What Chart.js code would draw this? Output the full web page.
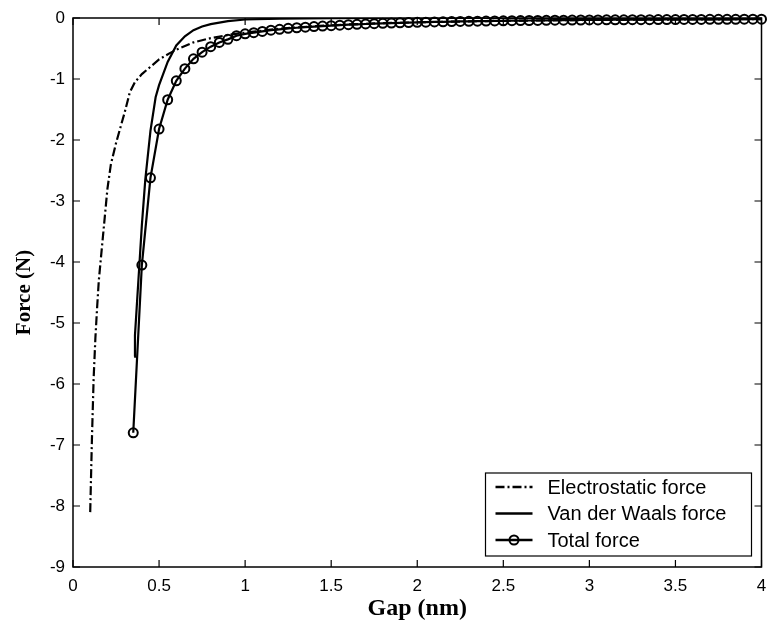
<!DOCTYPE html>
<html>
<head>
<meta charset="utf-8">
<script src="https://cdn.jsdelivr.net/npm/chart.js@4.4.0/dist/chart.umd.min.js"></script>
<style>
  html, body { margin: 0; padding: 0; background: #fff; }
</style>
</head>
<body>
<canvas id="forceChart" width="768" height="635"></canvas>
<script>
// Force vs gap chart

// --- Data ---
const xTicks = [0, 0.5, 1, 1.5, 2, 2.5, 3, 3.5, 4];
const yTicks = [0, -1, -2, -3, -4, -5, -6, -7, -8, -9];

const electroGap = [0.1, 0.11, 0.12, 0.13, 0.14, 0.15, 0.16, 0.17, 0.18, 0.19, 0.2, 0.22, 0.25, 0.28, 0.3, 0.33, 0.36, 0.4, 0.45, 0.5, 0.56, 0.6, 0.7, 0.8, 0.9, 1.0, 1.2, 1.4, 1.6, 1.8, 2.0, 2.5, 3.0, 3.5, 4.0];
const electroForce = [-8.1, -6.9, -5.9, -5.25, -4.75, -4.3, -4.0, -3.7, -3.4, -3.1, -2.8, -2.4, -2.05, -1.75, -1.55, -1.22, -1.05, -0.92, -0.8, -0.68, -0.58, -0.52, -0.4, -0.33, -0.28, -0.24, -0.175, -0.135, -0.105, -0.085, -0.07, -0.046, -0.032, -0.025, -0.019];

const vdwGap = [0.355, 0.36, 0.37, 0.38, 0.39, 0.4, 0.42, 0.45, 0.48, 0.5, 0.55, 0.6, 0.65, 0.7, 0.75, 0.8, 0.9, 1.0, 1.2, 1.5, 2.0, 2.5, 3.0, 3.5, 4.0];
const vdwForce = [-5.55, -5.2, -4.75, -4.3, -3.85, -3.4, -2.65, -1.85, -1.3, -1.1, -0.72, -0.45, -0.3, -0.2, -0.14, -0.1, -0.05, -0.025, -0.01, -0.004, 0, 0, 0, 0, 0];

const totalGap = [0.35, 0.4, 0.45, 0.5, 0.55, 0.6, 0.65, 0.7, 0.75, 0.8, 0.85, 0.9, 0.95, 1.0, 1.05, 1.1, 1.15, 1.2, 1.25, 1.3, 1.35, 1.4, 1.45, 1.5, 1.55, 1.6, 1.65, 1.7, 1.75, 1.8, 1.85, 1.9, 1.95, 2.0, 2.05, 2.1, 2.15, 2.2, 2.25, 2.3, 2.35, 2.4, 2.45, 2.5, 2.55, 2.6, 2.65, 2.7, 2.75, 2.8, 2.85, 2.9, 2.95, 3.0, 3.05, 3.1, 3.15, 3.2, 3.25, 3.3, 3.35, 3.4, 3.45, 3.5, 3.55, 3.6, 3.65, 3.7, 3.75, 3.8, 3.85, 3.9, 3.95, 4.0];
const totalForce = [-6.8, -4.05, -2.62, -1.82, -1.34, -1.03, -0.83, -0.67, -0.56, -0.47, -0.4, -0.35, -0.29, -0.26, -0.24, -0.22, -0.2, -0.185, -0.17, -0.16, -0.15, -0.14, -0.132, -0.125, -0.117, -0.11, -0.104, -0.098, -0.093, -0.088, -0.083, -0.079, -0.075, -0.071, -0.068, -0.065, -0.062, -0.059, -0.056, -0.054, -0.052, -0.05, -0.048, -0.046, -0.044, -0.042, -0.041, -0.039, -0.038, -0.036, -0.035, -0.034, -0.033, -0.032, -0.031, -0.03, -0.029, -0.029, -0.028, -0.027, -0.027, -0.026, -0.025, -0.025, -0.024, -0.024, -0.023, -0.022, -0.022, -0.021, -0.021, -0.02, -0.02, -0.019];

const seriesNames = ['Electrostatic force', 'Van der Waals force', 'Total force'];

const toPoints = (xs, ys) => xs.map((x, i) => ({ x: x, y: ys[i] }));

const tickFont = { family: 'Liberation Sans', size: 17 };
const TICK_LEN = 7;

// box round the plot + inward ticks on all four sides
const frameTicks = {
  id: 'frameTicks',
  afterDatasetsDraw(chart) {
    const { ctx, chartArea: a, scales } = chart;
    ctx.save();
    ctx.strokeStyle = '#000';
    ctx.lineWidth = 1.5;
    ctx.strokeRect(a.left, a.top, a.right - a.left, a.bottom - a.top);
    ctx.lineWidth = 1.2;
    ctx.beginPath();
    xTicks.forEach(v => {
      const px = scales.x.getPixelForValue(v);
      ctx.moveTo(px, a.bottom); ctx.lineTo(px, a.bottom - TICK_LEN);
      ctx.moveTo(px, a.top); ctx.lineTo(px, a.top + TICK_LEN);
    });
    yTicks.forEach(v => {
      const py = scales.y.getPixelForValue(v);
      ctx.moveTo(a.left, py); ctx.lineTo(a.left + TICK_LEN, py);
      ctx.moveTo(a.right, py); ctx.lineTo(a.right - TICK_LEN, py);
    });
    ctx.stroke();
    ctx.restore();
  }
};

// legend box in the lower right corner
const boxLegend = {
  id: 'boxLegend',
  afterDraw(chart) {
    const { ctx, chartArea: a } = chart;
    const w = 266, h = 83;
    const left = a.right - 10 - w, top = a.bottom - 11 - h;
    ctx.save();
    ctx.fillStyle = '#fff';
    ctx.fillRect(left, top, w, h);
    ctx.strokeStyle = '#000';
    ctx.lineWidth = 1.2;
    ctx.strokeRect(left, top, w, h);
    ctx.font = '20px "Liberation Sans"';
    ctx.textBaseline = 'middle';
    ctx.fillStyle = '#000';
    chart.data.datasets.forEach((ds, i) => {
      const y = top + 14 + i * 26.5;
      ctx.beginPath();
      ctx.lineWidth = 2.5;
      ctx.setLineDash(ds.borderDash || []);
      ctx.moveTo(left + 10, y); ctx.lineTo(left + 47, y);
      ctx.stroke();
      ctx.setLineDash([]);
      if (ds.pointRadius > 0) {
        ctx.beginPath();
        ctx.lineWidth = 2;
        ctx.arc(left + 28.5, y, 4.5, 0, Math.PI * 2);
        ctx.stroke();
      }
      ctx.fillText(ds.label, left + 62, y + 1);
    });
    ctx.restore();
  }
};

new Chart(document.getElementById('forceChart').getContext('2d'), {
  type: 'line',
  data: {
    datasets: [
      {
        label: seriesNames[0],
        data: toPoints(electroGap, electroForce),
        borderColor: '#000',
        borderWidth: 2.2,
        borderDash: [9, 3, 2, 3],
        pointRadius: 0,
        fill: false
      },
      {
        label: seriesNames[1],
        data: toPoints(vdwGap, vdwForce),
        borderColor: '#000',
        borderWidth: 2.2,
        pointRadius: 0,
        fill: false
      },
      {
        label: seriesNames[2],
        data: toPoints(totalGap, totalForce),
        borderColor: '#000',
        borderWidth: 2.2,
        pointRadius: 4.5,
        pointBorderWidth: 2,
        pointBorderColor: '#000',
        pointBackgroundColor: 'rgba(0,0,0,0)',
        clip: false,
        fill: false
      }
    ]
  },
  options: {
    responsive: false,
    animation: false,
    layout: { padding: { top: 18, right: 2, left: 0, bottom: 0 } },
    plugins: {
      legend: { display: false },
      tooltip: { enabled: false }
    },
    scales: {
      x: {
        type: 'linear',
        min: 0,
        max: 4,
        afterBuildTicks: s => { s.ticks = xTicks.map(v => ({ value: v })); },
        afterFit: s => { s.height = 68; s.paddingLeft = 0; s.paddingRight = 0; },
        grid: { display: false, drawTicks: false },
        border: { display: false },
        ticks: {
          font: tickFont, color: '#000', padding: 9, maxRotation: 0, autoSkip: false,
          callback: v => String(v)
        },
        title: {
          display: true,
          text: 'Gap (nm)',
          color: '#000',
          font: { family: 'Liberation Serif', size: 24, weight: 'bold' },
          padding: { top: 0, bottom: 12 }
        }
      },
      y: {
        min: -9,
        max: 0,
        afterBuildTicks: s => { s.ticks = yTicks.map(v => ({ value: v })); },
        afterFit: s => { s.width = 73; s.paddingTop = 0; s.paddingBottom = 0; },
        grid: { display: false, drawTicks: false },
        border: { display: false },
        ticks: { font: tickFont, color: '#000', padding: 8, callback: v => String(v) },
        title: {
          display: true,
          text: 'Force (N)',
          color: '#000',
          font: { family: 'Liberation Serif', size: 21, weight: 'bold' },
          padding: { top: 12, bottom: 0 }
        }
      }
    }
  },
  plugins: [frameTicks, boxLegend]
});
</script>
</body>
</html>
